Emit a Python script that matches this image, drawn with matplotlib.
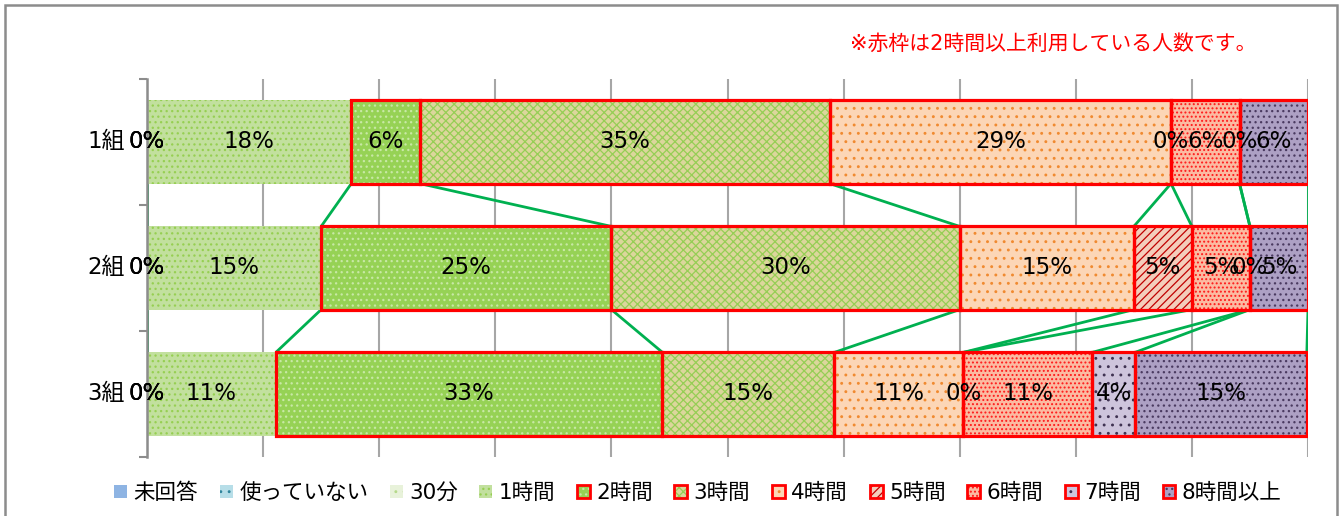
import matplotlib
matplotlib.use("Agg")
import matplotlib.pyplot as plt
from matplotlib.patches import Patch, Rectangle
from matplotlib.legend_handler import HandlerTuple
import numpy as np

plt.rcParams['font.family'] = ['DejaVu Sans', 'Noto Sans CJK JP']
plt.rcParams['hatch.linewidth'] = 0.9

groups = ["1組", "2組", "3組"]
series = ["未回答", "使っていない", "30分", "1時間", "2時間", "3時間",
          "4時間", "5時間", "6時間", "7時間", "8時間以上"]
# percentages per group (rows) for each series (columns)
g1 = [0, 0, 0, 17.6, 5.9, 35.3, 29.4, 0, 5.9, 0, 5.9]
g2 = [0, 0, 0, 15.0, 25.0, 30.0, 15.0, 5.0, 5.0, 0, 5.0]
g3 = [0, 0, 0, 11.1, 33.3, 14.8, 11.1, 0, 11.1, 3.7, 14.8]
values = [g1, g2, g3]
note = "※赤枠は2時間以上利用している人数です。"

# style per series: (face, hatch, hatch colour, red frame)
styles = [
    ("#8EB4E3", None, "#8EB4E3", False),
    ("#B7DEE8", "..", "#31859C", False),
    ("#E8F2DA", "..", "#B5D98A", False),
    ("#C2E09E", "...", "#96CF52", False),
    ("#96D255", "...", "#C8E8A6", True),
    ("#DCD69C", "xxxx", "#96CE55", True),
    ("#FCD6B6", "..", "#F08A30", True),
    ("#F4CDBB", "////", "#C00000", True),
    ("#FBBBA2", "....", "#FF1A1A", True),
    ("#CEC4DC", "..", "#3F3151", True),
    ("#ADA0C4", "...", "#4A3A60", True),
]

W, H = 1341, 516
fig = plt.figure(figsize=(W / 100, H / 100), dpi=100)
ax = fig.add_axes([147 / W, 1 - 457 / H, (1308 - 147) / W, (457 - 79) / H])

bar_h = 0.66
ypos = np.arange(len(groups))
vals = np.array(values)
cum = np.cumsum(vals, axis=1)
left = cum - vals

for k, (fc, hatch, hc, red) in enumerate(styles):
    ax.barh(ypos, vals[:, k], left=left[:, k], height=bar_h, color=fc,
            hatch=hatch, edgecolor=hc, linewidth=0, zorder=2)
    if red:
        ax.barh(ypos, vals[:, k], left=left[:, k], height=bar_h, fill=False,
                edgecolor="#FF0000", linewidth=2.3, zorder=3)

# series lines
for i in range(len(groups) - 1):
    for k in range(len(series)):
        ax.plot([cum[i, k], cum[i + 1, k]],
                [ypos[i] + bar_h / 2, ypos[i + 1] - bar_h / 2],
                color="#00B050", lw=2.0, zorder=1.5, solid_capstyle="butt")

# data labels
for i in range(len(groups)):
    for k in range(len(series)):
        ax.text(left[i, k] + vals[i, k] / 2, ypos[i], f"{vals[i, k]:.0f}%",
                ha="center", va="center", fontsize=16.5, color="#000000", zorder=5)

ax.set_xlim(0, 100)
ax.set_ylim(len(groups) - 0.5, -0.5)
ax.set_xticks(np.arange(0, 101, 10))
ax.set_xticklabels([])
ax.tick_params(axis="x", length=0)
ax.grid(axis="x", color="#A6A6A6", lw=1.5, zorder=0)
ax.set_axisbelow(True)
ax.set_yticks(np.arange(-0.5, len(groups), 1.0))
ax.set_yticklabels([])
ax.tick_params(axis="y", length=6, width=1.5, color="#8C8C8C", direction="out")
for s in ["top", "right", "bottom"]:
    ax.spines[s].set_visible(False)
ax.spines["left"].set_color("#8C8C8C")
ax.spines["left"].set_linewidth(1.8)

for i, g in enumerate(groups):
    fig.text(125 / W, 1 - (141 + 126 * i) / H, g, ha="right", va="center",
             fontsize=16.5, color="#000000")

fig.text(1256 / W, 1 - 44 / H, note, ha="right", va="center",
         fontsize=15, color="#FF0000")

# legend
handles = []
for fc, hatch, hc, red in styles:
    p1 = Patch(facecolor=fc, hatch=hatch, edgecolor=hc, linewidth=0)
    if red:
        p2 = Patch(fill=False, edgecolor="#FF0000", linewidth=2.0)
        handles.append((p1, p2))
    else:
        handles.append((p1,))
leg = fig.legend(handles, series, loc="center", bbox_to_anchor=(698 / W, 1 - 493 / H),
                 ncol=len(series), frameon=False, fontsize=15.5,
                 handlelength=0.6, handleheight=0.6, handletextpad=0.3,
                 columnspacing=1.0,
                 handler_map={tuple: HandlerTuple(ndivide=1, pad=0)})

# outer chart border
fig.patches.append(Rectangle((5 / W, -0.05), (1337 - 5) / W, 1.05 - 5 / H,
                             transform=fig.transFigure, fill=False,
                             edgecolor="#8C8C8C", lw=1.8))

fig.savefig("out.png", dpi=100)
